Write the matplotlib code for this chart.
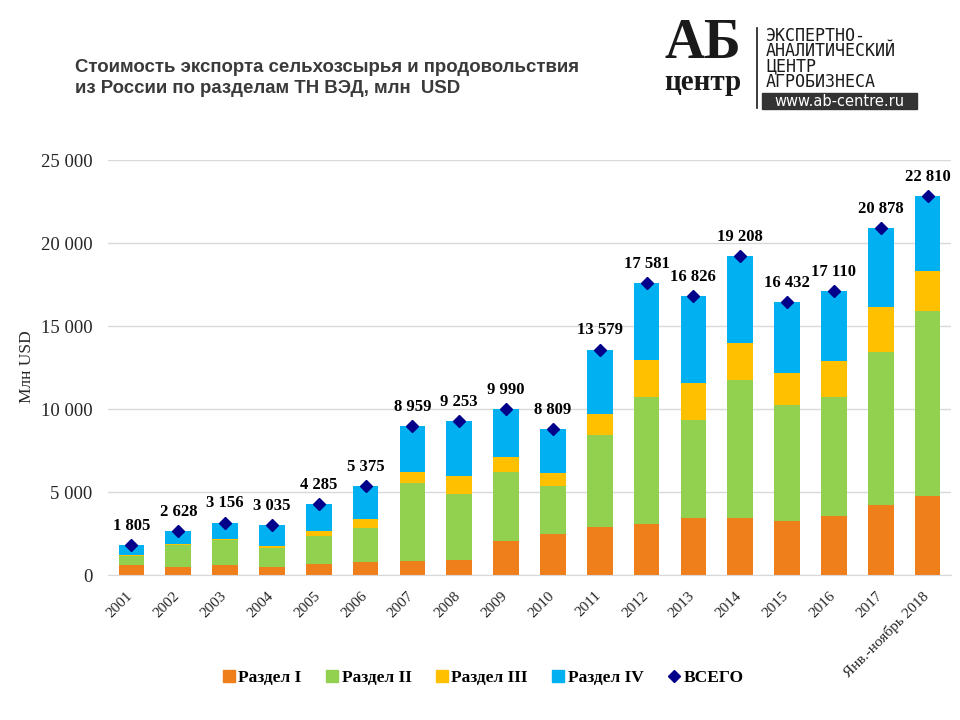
import matplotlib
matplotlib.use("Agg")
import matplotlib.pyplot as plt
from matplotlib.lines import Line2D
from matplotlib.patches import Rectangle
from matplotlib.transforms import ScaledTranslation, blended_transform_factory
import numpy as np

categories = ["2001", "2002", "2003", "2004", "2005", "2006", "2007", "2008", "2009",
              "2010", "2011", "2012", "2013", "2014", "2015", "2016", "2017",
              "Янв.-ноябрь 2018"]
razdel_1 = [580, 500, 580, 500, 660, 780, 820, 900, 2070, 2470, 2910, 3070, 3430, 3430, 3270, 3550, 4240, 4760]
razdel_2 = [560, 1310, 1530, 1130, 1690, 2050, 4740, 3980, 4130, 2890, 5500, 7630, 5910, 8320, 6950, 7150, 9190, 11120]
razdel_3 = [80, 60, 80, 120, 320, 560, 640, 1080, 930, 800, 1290, 2250, 2250, 2240, 1970, 2210, 2730, 2450]
totals = [1805, 2628, 3156, 3035, 4285, 5375, 8959, 9253, 9990, 8809, 13579, 17581, 16826, 19208, 16432, 17110, 20878, 22810]
razdel_4 = [t - a - b - c for t, a, b, c in zip(totals, razdel_1, razdel_2, razdel_3)]

series_names = ["Раздел I", "Раздел II", "Раздел III", "Раздел IV"]
total_name = "ВСЕГО"
colors = ["#EE7F1A", "#92D050", "#FFC000", "#00B0F0"]
total_color = "#00008B"

serif = ["Liberation Serif", "DejaVu Serif"]
sans = ["Liberation Sans", "DejaVu Sans"]

fig = plt.figure(figsize=(9.6, 7.2), dpi=100)
ax = fig.add_axes([108/960, 1-575/720, 843/960, 415/720])

x = np.arange(len(categories))
bottom = np.zeros(len(categories))
for vals, col in zip([razdel_1, razdel_2, razdel_3, razdel_4], colors):
    ax.bar(x, vals, 0.55, bottom=bottom, color=col, zorder=2)
    bottom += np.array(vals)

ax.plot(x, totals, linestyle="none", marker="D", markersize=6, color=total_color, zorder=3)
for xi, t in zip(x, totals):
    ax.annotate(f"{t:,}".replace(",", " "), (xi, t), xytext=(0, 8), textcoords="offset points",
                ha="center", va="bottom", fontsize=12, fontweight="bold", family=serif, color="black")

ax.set_xlim(-0.5, len(categories) - 0.5)
ax.set_ylim(0, 25000)
ax.set_yticks(np.arange(0, 25001, 5000))
ax.set_yticklabels([f"{v:,}".replace(",", " ") for v in range(0, 25001, 5000)],
                   fontsize=13.5, family=serif, color="#262626")
ax.set_xticks(x)
ax.set_xticklabels([])
trans = blended_transform_factory(ax.transData, ax.transAxes) + ScaledTranslation(4/100, -14/100, fig.dpi_scale_trans)
for xi, cat in zip(x, categories):
    ax.text(xi, 0, cat, transform=trans, rotation=45, ha="right", va="top", fontsize=11,
            family=serif, color="#262626", clip_on=False)
ax.tick_params(axis="both", length=0)
ax.tick_params(axis="y", pad=11)
ax.grid(axis="y", color="#D9D9D9", linewidth=1, zorder=0)
ax.set_axisbelow(True)
for s in ["top", "right", "left"]:
    ax.spines[s].set_visible(False)
ax.spines["bottom"].set_color("#D9D9D9")

fig.text(27/960, 1-367/720, "Млн USD", rotation=90, ha="center", va="center",
         fontsize=12.5, family=serif, color="#262626")

fig.text(75/960, 1-78/720, "Стоимость экспорта сельхозсырья и продовольствия\nиз России по разделам ТН ВЭД, млн  USD",
         ha="left", va="center", fontsize=13.4, fontweight="bold", family=sans, color="#3a3a3a",
         linespacing=1.35)

# legend
handles = [Line2D([], [], linestyle="none", marker="s", markersize=8, color=c) for c in colors]
handles.append(Line2D([], [], linestyle="none", marker="D", markersize=6, color=total_color))
fig.legend(handles, series_names + [total_name], loc="center", bbox_to_anchor=(484/960, 1-678/720),
           ncol=5, frameon=False, handlelength=0.5, handletextpad=0.3, columnspacing=1.5,
           prop={"family": serif, "weight": "bold", "size": 12.5})

# logo
fig.text(703/960, 1-44/720, "АБ", ha="center", va="center", fontsize=40, fontweight="bold",
         family=serif, color="#1a1a1a")
fig.text(703/960, 1-83/720, "центр", ha="center", va="center", fontsize=21, fontweight="bold",
         family=serif, color="#1a1a1a")
fig.add_artist(Line2D([757/960, 757/960], [1-28/720, 1-108/720], color="#1a1a1a", linewidth=1.2))
fig.text(766/960, 1-27/720, "ЭКСПЕРТНО-\nАНАЛИТИЧЕСКИЙ\nЦЕНТР\nАГРОБИЗНЕСА", ha="left", va="top",
         fontsize=12, family=["DejaVu Sans Mono"], color="#1a1a1a", linespacing=0.8)
fig.add_artist(Rectangle((762/960, 1-109/720), 155/960, 16/720, color="#333333"))
fig.text(839/960, 1-101/720, "www.ab-centre.ru", ha="center", va="center", fontsize=10.5,
         family=["DejaVu Sans"], color="white")

fig.savefig("out.png", dpi=100)
